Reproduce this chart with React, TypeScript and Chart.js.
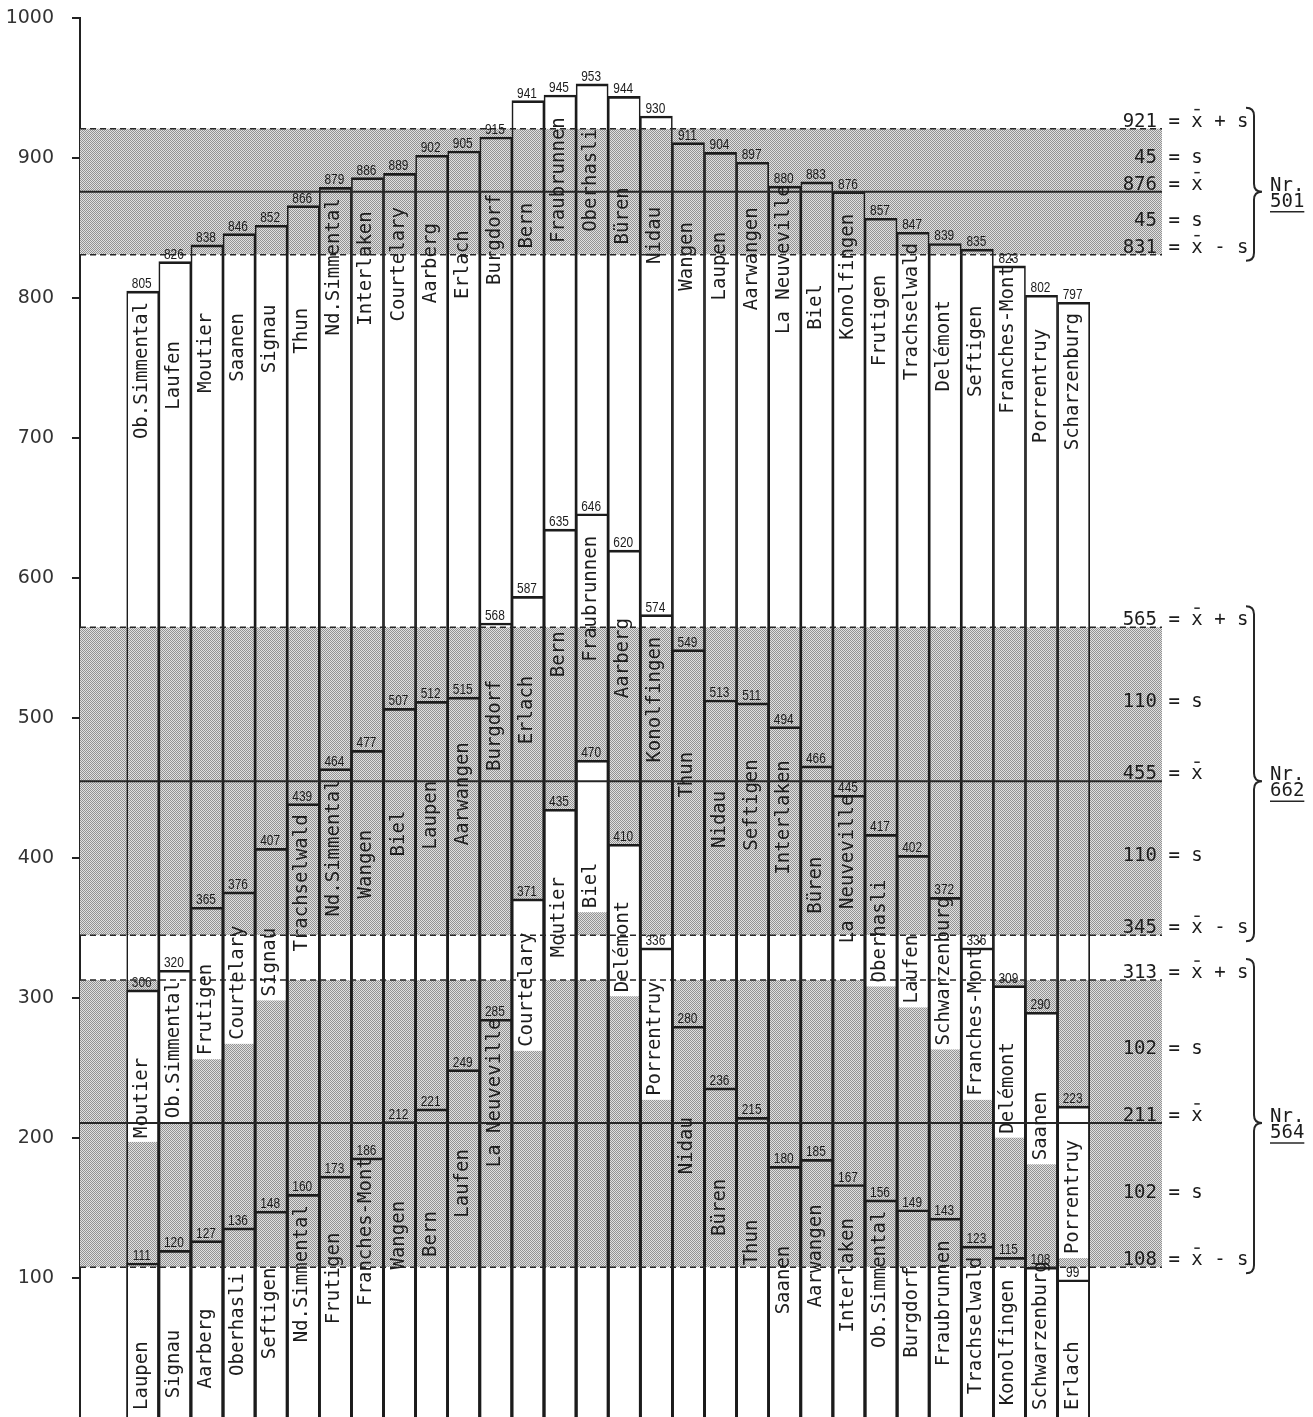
import React, { useEffect, useRef } from 'react';
import { Chart, registerables } from 'chart.js';

Chart.register(...registerables);

// ---- data ----
const districts501 = ['Ob.Simmental', 'Laufen', 'Moutier', 'Saanen', 'Signau', 'Thun', 'Nd.Simmental', 'Interlaken', 'Courtelary', 'Aarberg', 'Erlach', 'Burgdorf', 'Bern', 'Fraubrunnen', 'Oberhasli', 'Büren', 'Nidau', 'Wangen', 'Laupen', 'Aarwangen', 'La Neuveville', 'Biel', 'Konolfingen', 'Frutigen', 'Trachselwald', 'Delémont', 'Seftigen', 'Franches-Mont.', 'Porrentruy', 'Scharzenburg'];
const values501 = [805, 826, 838, 846, 852, 866, 879, 886, 889, 902, 905, 915, 941, 945, 953, 944, 930, 911, 904, 897, 880, 883, 876, 857, 847, 839, 835, 823, 802, 797];

const districts662 = ['Moutier', 'Ob.Simmental', 'Frutigen', 'Courtelary', 'Signau', 'Trachselwald', 'Nd.Simmental', 'Wangen', 'Biel', 'Laupen', 'Aarwangen', 'Burgdorf', 'Erlach', 'Bern', 'Fraubrunnen', 'Aarberg', 'Konolfingen', 'Thun', 'Nidau', 'Seftigen', 'Interlaken', 'Büren', 'La Neuveville', 'Oberhasli', 'Laufen', 'Schwarzenburg', 'Franches-Mont.', 'Delémont', 'Saanen', 'Porrentruy'];
const values662 = [306, 320, 365, 376, 407, 439, 464, 477, 507, 512, 515, 568, 587, 635, 646, 620, 574, 549, 513, 511, 494, 466, 445, 417, 402, 372, 336, 309, 290, 223];

const districts564 = ['Laupen', 'Signau', 'Aarberg', 'Oberhasli', 'Seftigen', 'Nd.Simmental', 'Frutigen', 'Franches-Mont', 'Wangen', 'Bern', 'Laufen', 'La Neuveville', 'Courtelary', 'Moutier', 'Biel', 'Delémont', 'Porrentruy', 'Nidau', 'Büren', 'Thun', 'Saanen', 'Aarwangen', 'Interlaken', 'Ob.Simmental', 'Burgdorf', 'Fraubrunnen', 'Trachselwald', 'Konolfingen', 'Schwarzenburg', 'Erlach'];
const values564 = [111, 120, 127, 136, 148, 160, 173, 186, 212, 221, 249, 285, 371, 435, 470, 410, 336, 280, 236, 215, 180, 185, 167, 156, 149, 143, 123, 115, 108, 99];

const seriesNames = ['501', '662', '564'];
const seriesMeans = [876, 455, 211];
const seriesSds = [45, 110, 102];
const seriesUpper = [921, 565, 313];
const seriesLower = [831, 345, 108];
const yTickValues = [100, 200, 300, 400, 500, 600, 700, 800, 900, 1000];

const MONO = "'DejaVu Sans Mono', 'Liberation Mono', monospace";
const INK = '#1c1c1c';

export default function App() {
  const ref = useRef<HTMLCanvasElement>(null);

  useEffect(() => {
    document.body.style.margin = '0';
    const canvas = ref.current as HTMLCanvasElement;
    const labelsBySeries = [districts501, districts662, districts564];
    const valuesBySeries = [values501, values662, values564];
    const bands = seriesMeans.map((m, k) => ({ mean: m, sd: seriesSds[k], hi: seriesUpper[k], lo: seriesLower[k], name: seriesNames[k] }));

    const tile = document.createElement('canvas');
    tile.width = 2;
    tile.height = 2;
    const tctx = tile.getContext('2d') as CanvasRenderingContext2D;
    tctx.fillStyle = '#e0e0e0';
    tctx.fillRect(0, 0, 2, 2);
    tctx.fillStyle = '#939393';
    tctx.fillRect(0, 0, 1, 1);
    tctx.fillRect(1, 1, 1, 1);

    const LABEL_DROP = 148;
    const labelBottom = (topPx: number, a: any) => Math.min(topPx + LABEL_DROP, a.bottom - 7);

    const plugin: any = {
      id: 'bandsAndLabels',
      beforeDatasetsDraw(chart: any) {
        const { ctx, chartArea: a, scales } = chart;
        const y = scales.y;
        const pat = ctx.createPattern(tile, 'repeat');
        ctx.save();
        ctx.fillStyle = pat;
        bands.forEach((b) => {
          const t = y.getPixelForValue(b.hi);
          const btm = y.getPixelForValue(b.lo);
          ctx.fillRect(a.left, t, a.right - a.left, btm - t);
        });
        ctx.fillStyle = '#ffffff';
        valuesBySeries.forEach((vals, k) => {
          const meta = chart.getDatasetMeta(k);
          const own = bands[k];
          vals.forEach((v, i) => {
            const el: any = meta.data[i];
            const top = el.y + 2;
            const bottom = labelBottom(el.y, a) + 4;
            const left = el.x - el.width / 2 + 1;
            const w = el.width - 2;
            const outside = v > own.hi || v < own.lo;
            let dist = Infinity;
            bands.forEach((b, j) => {
              if (j === k) return;
              const d = v > b.hi ? v - b.hi : v < b.lo ? b.lo - v : 0;
              dist = Math.min(dist, d);
            });
            if (outside && dist <= 40) {
              ctx.fillRect(left, top, w, bottom - top);
            } else {
              const ot = y.getPixelForValue(own.hi);
              const ob = y.getPixelForValue(own.lo);
              const r1b = Math.min(bottom, ot);
              if (r1b > top) ctx.fillRect(left, top, w, r1b - top);
              const r2t = Math.max(top, ob);
              if (bottom > r2t) ctx.fillRect(left, r2t, w, bottom - r2t);
            }
          });
        });
        ctx.restore();
      },
      afterDatasetsDraw(chart: any) {
        const { ctx, chartArea: a, scales } = chart;
        const y = scales.y;
        ctx.save();
        // band edges and means
        ctx.strokeStyle = '#262626';
        bands.forEach((b) => {
          ctx.setLineDash([6, 4]);
          ctx.lineWidth = 1.5;
          [b.hi, b.lo].forEach((v) => {
            const py = y.getPixelForValue(v);
            ctx.beginPath();
            ctx.moveTo(a.left, py);
            ctx.lineTo(a.right, py);
            ctx.stroke();
          });
          ctx.setLineDash([]);
          ctx.lineWidth = 2;
          const pm = y.getPixelForValue(b.mean);
          ctx.beginPath();
          ctx.moveTo(a.left, pm);
          ctx.lineTo(a.right, pm);
          ctx.stroke();
        });

        // value numbers above bars
        ctx.fillStyle = INK;
        ctx.font = "14px 'Liberation Sans', Arial, sans-serif";
        ctx.textAlign = 'center';
        ctx.textBaseline = 'alphabetic';
        valuesBySeries.forEach((vals, k) => {
          const meta = chart.getDatasetMeta(k);
          vals.forEach((v, i) => {
            const el: any = meta.data[i];
            ctx.save();
            ctx.translate(el.x - 1, el.y - 3);
            ctx.scale(0.85, 1);
            ctx.fillText(String(v), 0, 0);
            ctx.restore();
          });
        });

        // district names, rotated
        ctx.font = `19px ${MONO}`;
        ctx.textAlign = 'left';
        ctx.textBaseline = 'alphabetic';
        labelsBySeries.forEach((names, k) => {
          const meta = chart.getDatasetMeta(k);
          names.forEach((name, i) => {
            const el: any = meta.data[i];
            const bottom = labelBottom(el.y, a);
            ctx.save();
            ctx.translate(el.x + 4, bottom);
            ctx.rotate(-Math.PI / 2);
            ctx.fillText(name, 0, 0);
            ctx.restore();
          });
        });

        // right-hand statistics
        const adv = ctx.measureText('0').width;
        const xNum = a.right - 5;
        ctx.lineWidth = 1.5;
        bands.forEach((b) => {
          const rows = [
            { py: y.getPixelForValue(b.hi) - 2, num: b.hi, rest: ' = x + s', bar: true },
            { py: y.getPixelForValue((b.hi + b.mean) / 2) + 3, num: b.sd, rest: ' = s', bar: false },
            { py: y.getPixelForValue(b.mean) - 2, num: b.mean, rest: ' = x', bar: true },
            { py: y.getPixelForValue((b.mean + b.lo) / 2) + 3, num: b.sd, rest: ' = s', bar: false },
            { py: y.getPixelForValue(b.lo) - 2, num: b.lo, rest: ' = x - s', bar: true },
          ];
          rows.forEach((r) => {
            ctx.textAlign = 'right';
            ctx.fillText(String(r.num), xNum, r.py);
            ctx.textAlign = 'left';
            ctx.fillText(r.rest, xNum, r.py);
            if (r.bar) {
              const xs = xNum + 3 * adv;
              ctx.beginPath();
              ctx.moveTo(xs + 3, r.py - 17);
              ctx.lineTo(xs + adv - 3, r.py - 17);
              ctx.stroke();
            }
          });
          // brace
          const top = y.getPixelForValue(b.hi) - 21;
          const bot = y.getPixelForValue(b.lo) + 6;
          const tip = y.getPixelForValue(b.mean);
          const xL = a.right + 84;
          const xV = a.right + 92;
          const xT = a.right + 100;
          ctx.lineWidth = 2;
          ctx.beginPath();
          ctx.moveTo(xL, top);
          ctx.quadraticCurveTo(xV, top, xV, top + 8);
          ctx.lineTo(xV, tip - 8);
          ctx.quadraticCurveTo(xV, tip, xT, tip);
          ctx.quadraticCurveTo(xV, tip, xV, tip + 8);
          ctx.lineTo(xV, bot - 8);
          ctx.quadraticCurveTo(xV, bot, xL, bot);
          ctx.stroke();
          // Nr.
          const xn = a.right + 108;
          ctx.textAlign = 'left';
          ctx.fillText('Nr.', xn, tip - 1);
          ctx.fillText(b.name, xn, tip + 15);
          ctx.lineWidth = 1.5;
          ctx.beginPath();
          ctx.moveTo(xn, tip + 20);
          ctx.lineTo(xn + 3 * adv, tip + 20);
          ctx.stroke();
        });
        ctx.restore();
      },
    };

    const chart = new Chart(canvas, {
      type: 'bar',
      data: {
        datasets: valuesBySeries.map((vals, k) => ({
          label: 'Nr. ' + seriesNames[k],
          data: vals.map((v, i) => ({ x: i + 1, y: v })),
          backgroundColor: 'rgba(0,0,0,0)',
          borderColor: INK,
          borderWidth: { top: 2, left: 1, right: 1, bottom: 0 },
          borderSkipped: 'start',
          grouped: false,
          barPercentage: 1,
          categoryPercentage: 1,
        })),
      } as any,
      options: {
        responsive: false,
        animation: false,
        layout: { padding: { left: 0, right: 151, top: 18, bottom: 0 } },
        plugins: { legend: { display: false }, tooltip: { enabled: false } },
        scales: {
          x: {
            type: 'linear',
            min: -0.955,
            max: 32.753,
            offset: false,
            display: false,
            grid: { offset: false },
            afterBuildTicks: (s: any) => {
              s.ticks = values501.map((_, i) => ({ value: i + 1 }));
            },
          },
          y: {
            type: 'linear',
            min: 1,
            max: 1000,
            afterBuildTicks: (s: any) => {
              s.ticks = yTickValues.map((v) => ({ value: v }));
            },
            afterFit: (s: any) => {
              s.width = 80;
              s.paddingTop = 0;
              s.paddingBottom = 0;
            },
            grid: { drawOnChartArea: false, drawTicks: true, tickLength: 8, color: '#222', lineWidth: 2 },
            border: { display: true, color: '#222', width: 2 },
            ticks: { padding: 18, color: '#333', font: { family: 'DejaVu Sans', size: 19 }, callback: (v: any) => String(v) },
          },
        },
      } as any,
      plugins: [plugin],
    });
    return () => chart.destroy();
  }, []);

  return <canvas ref={ref} width={1313} height={1417} style={{ display: 'block' }} />;
}
